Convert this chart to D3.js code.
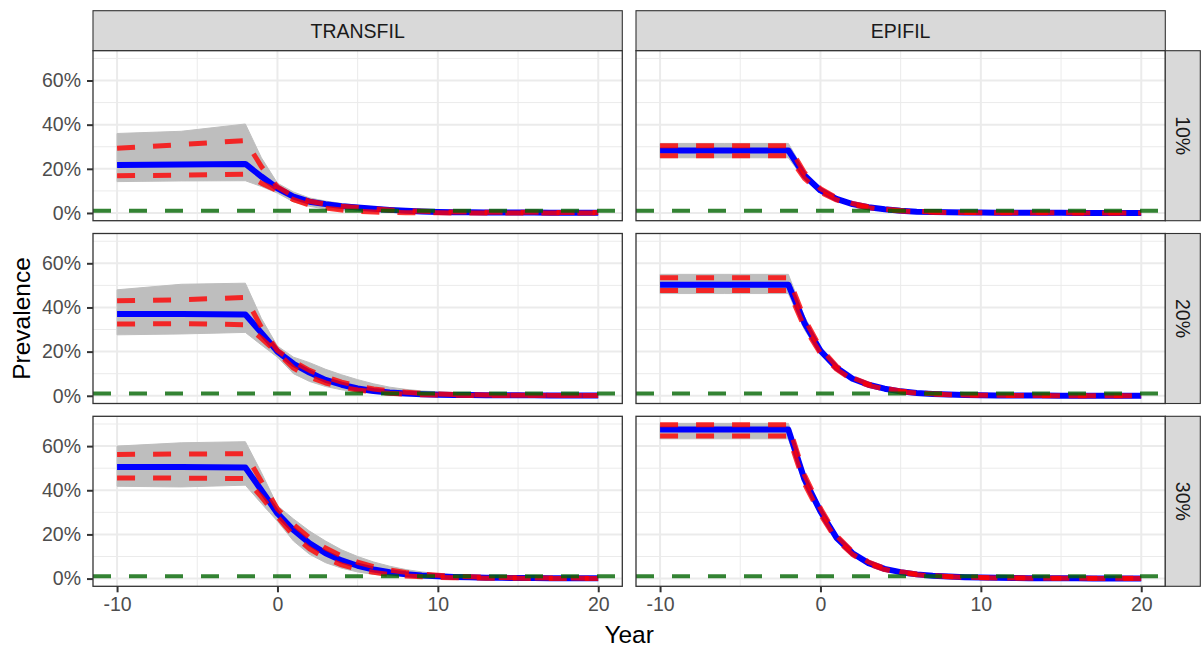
<!DOCTYPE html>
<html>
<head>
<meta charset="utf-8">
<script src="https://cdn.jsdelivr.net/npm/d3@7"></script>
<style>
  html, body { margin: 0; padding: 0; background: #fff; }
  svg text { font-family: "Liberation Sans", Arial, sans-serif; }
</style>
</head>
<body>
<svg id="chart" width="1202" height="647"></svg>
<script>
// ---------------- data ----------------
const years = [-10,-6,-2,-1,0,1,2,3,4,5,6,7,8,9,10,11,12,13,14,15,16,17,18,19,20];
const models = ["TRANSFIL", "EPIFIL"];
const coverages = ["10%", "20%", "30%"];
const yTicks = [0, 20, 40, 60];
const yMinor = [10, 30, 50, 70];
const xTicks = [-10, 0, 10, 20];
const xMinor = [-5, 5, 15];
const threshold = 1; // % prevalence

// TRANSFIL 10%
const tr10Mean = [21.7,22.0,22.2,16.5,11.2,7.4,5.1,4.0,3.1,2.5,1.9,1.4,1.0,0.7,0.45,0.35,0.3,0.25,0.2,0.18,0.16,0.15,0.14,0.13,0.12];
const tr10Hi   = [29.3,31.0,32.8,21.0,11.8,7.6,5.3,4.0,3.1,2.5,1.9,1.4,1.0,0.75,0.55,0.45,0.4,0.35,0.32,0.3,0.28,0.27,0.26,0.25,0.25];
const tr10Lo   = [16.9,17.1,17.5,13.5,10.0,6.0,3.6,2.2,1.3,0.7,0.4,0.25,0.15,0.1,0.05,0.03,0.02,0.02,0.02,0.02,0.02,0.02,0.02,0.02,0.02];
const tr10GHi  = [36.0,37.0,40.3,25.0,13.5,9.5,6.8,5.4,4.3,3.5,2.8,2.3,1.9,1.6,1.3,1.1,1.0,0.9,0.8,0.7,0.6,0.55,0.5,0.45,0.4];
const tr10GLo  = [14.2,14.5,14.6,12.0,9.0,5.0,3.0,1.8,1.0,0.6,0.35,0.2,0.1,0.05,0,0,0,0,0,0,0,0,0,0,0];
// TRANSFIL 20%
const tr20Mean = [37.0,37.0,36.8,28.5,20.0,14.5,10.5,7.2,5.0,3.3,2.2,1.5,1.0,0.7,0.5,0.4,0.32,0.27,0.23,0.2,0.18,0.16,0.15,0.14,0.13];
const tr20Hi   = [43.0,43.5,44.5,31.0,20.5,15.5,11.5,8.5,6.2,4.4,3.1,2.2,1.6,1.1,0.8,0.6,0.45,0.35,0.3,0.25,0.2,0.18,0.16,0.15,0.14];
const tr20Lo   = [32.5,32.7,32.2,26.0,19.5,12.5,8.5,5.8,3.9,2.6,1.7,1.1,0.7,0.45,0.3,0.2,0.15,0.1,0.08,0.08,0.08,0.08,0.08,0.08,0.08];
const tr20GHi  = [48.0,50.5,51.0,35.0,22.5,17.5,15.0,12.0,9.5,7.3,5.4,3.9,2.9,2.2,1.8,1.5,1.2,1.0,0.8,0.7,0.6,0.5,0.45,0.4,0.35];
const tr20GLo  = [27.6,28.0,28.7,23.0,17.5,10.0,6.5,4.2,2.7,1.7,1.0,0.6,0.35,0.2,0.1,0.03,0.03,0.03,0.03,0.03,0.03,0.03,0.03,0.03,0.03];
// TRANSFIL 30%
const tr30Mean = [50.5,50.5,50.3,40.0,29.5,22.0,16.0,11.5,8.2,5.8,4.1,2.9,2.0,1.4,1.0,0.75,0.55,0.42,0.33,0.27,0.22,0.19,0.17,0.15,0.14];
const tr30Hi   = [56.2,56.4,56.6,44.0,31.5,24.5,18.5,13.8,10.2,7.4,5.4,3.9,2.8,2.0,1.5,1.1,0.8,0.6,0.45,0.35,0.3,0.25,0.22,0.2,0.18];
const tr30Lo   = [45.6,45.5,45.3,37.0,28.0,19.5,13.5,9.2,6.2,4.2,2.8,1.8,1.2,0.8,0.5,0.35,0.25,0.18,0.13,0.1,0.08,0.08,0.08,0.08,0.08];
const tr30GHi  = [60.0,61.5,62.0,48.0,33.0,27.0,21.5,17.0,13.0,10.0,7.5,5.6,4.1,3.0,2.2,1.7,1.3,1.0,0.8,0.65,0.55,0.48,0.42,0.38,0.35];
const tr30GLo  = [41.8,41.5,42.3,34.0,26.0,17.0,11.0,7.2,4.7,3.0,1.9,1.2,0.75,0.45,0.28,0.17,0.1,0.05,0.05,0.05,0.05,0.05,0.05,0.05,0.05];
// EPIFIL 10%
const ep10Mean = [28.3,28.3,28.3,17.0,10.2,6.4,4.0,2.6,1.7,1.0,0.6,0.4,0.28,0.22,0.17,0.13,0.1,0.08,0.06,0.05,0.04,0.04,0.04,0.04,0.04];
const ep10Hi   = [30.5,30.5,30.5,18.3,11.0,6.9,4.3,2.8,1.8,1.1,0.7,0.45,0.3,0.22,0.17,0.13,0.1,0.08,0.06,0.05,0.04,0.04,0.04,0.04,0.04];
const ep10Lo   = [25.9,25.9,25.9,15.7,9.4,5.9,3.7,2.4,1.55,0.9,0.55,0.35,0.25,0.18,0.13,0.1,0.08,0.06,0.05,0.04,0.03,0.03,0.03,0.03,0.03];
const ep10GHi  = [31.5,31.5,31.5,19.0,11.5,7.3,4.6,3.0,2.0,1.3,0.85,0.55,0.38,0.27,0.2,0.15,0.12,0.1,0.08,0.06,0.05,0.05,0.05,0.05,0.05];
const ep10GLo  = [25.0,25.0,25.0,15.2,9.0,5.6,3.5,2.2,1.45,0.85,0.5,0.32,0.22,0.15,0.1,0.08,0.06,0.05,0.04,0.03,0.03,0.03,0.03,0.03,0.03];
// EPIFIL 20%
const ep20Mean = [50.3,50.3,50.3,33.0,20.4,12.7,7.7,5.0,3.2,2.0,1.3,0.85,0.55,0.37,0.25,0.17,0.12,0.09,0.07,0.05,0.05,0.05,0.05,0.05,0.05];
const ep20Hi   = [53.5,53.5,53.5,35.0,21.6,13.4,8.2,5.3,3.4,2.15,1.4,0.9,0.6,0.4,0.27,0.19,0.13,0.1,0.08,0.06,0.06,0.06,0.06,0.06,0.06];
const ep20Lo   = [47.7,47.7,47.7,31.0,19.2,12.0,7.2,4.7,3.0,1.85,1.2,0.8,0.5,0.34,0.23,0.16,0.11,0.08,0.06,0.05,0.05,0.05,0.05,0.05,0.05];
const ep20GHi  = [55.0,55.0,55.0,36.0,22.3,13.9,8.6,5.6,3.6,2.3,1.5,0.97,0.65,0.43,0.3,0.21,0.15,0.11,0.09,0.07,0.07,0.07,0.07,0.07,0.07];
const ep20GLo  = [46.3,46.3,46.3,30.0,18.6,11.5,6.9,4.5,2.85,1.75,1.12,0.75,0.47,0.32,0.21,0.14,0.1,0.07,0.05,0.04,0.04,0.04,0.04,0.04,0.04];
// EPIFIL 30%
const ep30Mean = [67.5,67.5,67.5,45.0,30.4,18.5,11.5,7.0,4.4,2.9,1.9,1.3,0.9,0.6,0.45,0.33,0.25,0.19,0.15,0.12,0.1,0.08,0.08,0.08,0.08];
const ep30Hi   = [69.7,69.7,69.7,47.0,31.8,19.5,12.2,7.5,4.7,3.1,2.05,1.4,0.97,0.65,0.48,0.35,0.27,0.2,0.16,0.13,0.11,0.09,0.09,0.09,0.09];
const ep30Lo   = [64.6,64.6,64.6,43.0,29.0,17.6,10.9,6.6,4.1,2.7,1.75,1.2,0.82,0.55,0.4,0.3,0.22,0.17,0.13,0.1,0.08,0.07,0.07,0.07,0.07];
const ep30GHi  = [70.3,70.3,70.3,48.0,32.5,20.0,12.6,7.8,4.9,3.25,2.15,1.47,1.02,0.68,0.5,0.37,0.28,0.21,0.17,0.14,0.12,0.1,0.1,0.1,0.1];
const ep30GLo  = [63.3,63.3,63.3,42.0,28.4,17.1,10.5,6.3,3.9,2.55,1.65,1.12,0.77,0.52,0.38,0.28,0.21,0.16,0.12,0.09,0.07,0.06,0.06,0.06,0.06];

const panelData = {
  "TRANSFIL|10%": {mean: tr10Mean, hi: tr10Hi, lo: tr10Lo, gHi: tr10GHi, gLo: tr10GLo},
  "TRANSFIL|20%": {mean: tr20Mean, hi: tr20Hi, lo: tr20Lo, gHi: tr20GHi, gLo: tr20GLo},
  "TRANSFIL|30%": {mean: tr30Mean, hi: tr30Hi, lo: tr30Lo, gHi: tr30GHi, gLo: tr30GLo},
  "EPIFIL|10%":   {mean: ep10Mean, hi: ep10Hi, lo: ep10Lo, gHi: ep10GHi, gLo: ep10GLo},
  "EPIFIL|20%":   {mean: ep20Mean, hi: ep20Hi, lo: ep20Lo, gHi: ep20GHi, gLo: ep20GLo},
  "EPIFIL|30%":   {mean: ep30Mean, hi: ep30Hi, lo: ep30Lo, gHi: ep30GHi, gLo: ep30GLo}
};

// ---------------- layout ----------------
const svg = d3.select("#chart");
const colX = [93, 636];
const panelW = 529.3;
const rowY = [50.7, 233.5, 416.3];
const panelH = 170;
const stripTop = 10.7, stripH = 40;
const rStripW = 35;
const fontTick = 19.5, fontTitle = 24.5;

const x = d3.scaleLinear().domain([-11.5, 21.5]).range([0, panelW]);
const y = d3.scaleLinear().domain([-3.5, 73.5]).range([panelH, 0]);

const defs = svg.append("defs");
defs.append("clipPath").attr("id", "pclip")
  .append("rect").attr("x", 0).attr("y", 0).attr("width", panelW).attr("height", panelH);

const lineGen = arr => d3.line().x((d, i) => x(years[i])).y(d => y(d))(arr);
const areaGen = (hi, lo) => d3.area().x((d, i) => x(years[i])).y0((d, i) => y(lo[i])).y1(d => y(d))(hi);

models.forEach((m, ci) => {
  const sx = colX[ci];
  svg.append("rect").attr("x", sx).attr("y", stripTop).attr("width", panelW).attr("height", stripH)
    .attr("fill", "#D9D9D9").attr("stroke", "#333333").attr("stroke-width", 1.1);
  svg.append("text").attr("x", sx + panelW / 2).attr("y", stripTop + stripH / 2)
    .attr("text-anchor", "middle").attr("dominant-baseline", "central")
    .attr("font-size", fontTick).attr("fill", "#1A1A1A").text(m);

  coverages.forEach((c, ri) => {
    const d = panelData[m + "|" + c];
    const g = svg.append("g").attr("transform", `translate(${sx},${rowY[ri]})`);
    g.append("rect").attr("width", panelW).attr("height", panelH).attr("fill", "#fff");
    const inner = g.append("g").attr("clip-path", "url(#pclip)");
    inner.selectAll(".ymin").data(yMinor).join("line")
      .attr("x1", 0).attr("x2", panelW).attr("y1", v => y(v)).attr("y2", v => y(v))
      .attr("stroke", "#EBEBEB").attr("stroke-width", 1);
    inner.selectAll(".xmin").data(xMinor).join("line")
      .attr("y1", 0).attr("y2", panelH).attr("x1", v => x(v)).attr("x2", v => x(v))
      .attr("stroke", "#EBEBEB").attr("stroke-width", 1);
    inner.selectAll(".ymaj").data(yTicks).join("line")
      .attr("x1", 0).attr("x2", panelW).attr("y1", v => y(v)).attr("y2", v => y(v))
      .attr("stroke", "#EBEBEB").attr("stroke-width", 2);
    inner.selectAll(".xmaj").data(xTicks).join("line")
      .attr("y1", 0).attr("y2", panelH).attr("x1", v => x(v)).attr("x2", v => x(v))
      .attr("stroke", "#EBEBEB").attr("stroke-width", 2);
    inner.append("path").attr("d", areaGen(d.gHi, d.gLo)).attr("fill", "#BEBEBE")
      .attr("stroke", "#BEBEBE").attr("stroke-width", 1).attr("stroke-linejoin", "round");
    inner.append("path").attr("d", lineGen(d.mean)).attr("fill", "none")
      .attr("stroke", "#0000FF").attr("stroke-width", 6).attr("stroke-linejoin", "round");
    [d.hi, d.lo].forEach(arr => {
      inner.append("path").attr("d", lineGen(arr)).attr("fill", "none")
        .attr("stroke", "rgba(255,0,0,0.8)").attr("stroke-width", 5)
        .attr("stroke-dasharray", "18,18").attr("stroke-linejoin", "round");
    });
    inner.append("line").attr("x1", 0).attr("x2", panelW).attr("y1", y(threshold)).attr("y2", y(threshold))
      .attr("stroke", "rgba(0,100,0,0.8)").attr("stroke-width", 4).attr("stroke-dasharray", "18,18");
    g.append("rect").attr("width", panelW).attr("height", panelH).attr("fill", "none")
      .attr("stroke", "#333333").attr("stroke-width", 1.3);

    if (ci === 0) {
      const ax = g.append("g").call(d3.axisLeft(y).tickValues(yTicks).tickSize(6).tickPadding(6).tickFormat(v => v + "%"));
      ax.select(".domain").remove();
      ax.selectAll("line").attr("stroke", "#333333").attr("stroke-width", 2);
      ax.selectAll("text").attr("font-size", fontTick).attr("fill", "#4D4D4D")
        .attr("font-family", "Liberation Sans, Arial, sans-serif");
    }
    if (ri === coverages.length - 1) {
      const ax = g.append("g").attr("transform", `translate(0,${panelH})`)
        .call(d3.axisBottom(x).tickValues(xTicks).tickSize(6).tickPadding(4.5).tickFormat(v => String(v)));
      ax.select(".domain").remove();
      ax.selectAll("line").attr("stroke", "#333333").attr("stroke-width", 2);
      ax.selectAll("text").attr("font-size", fontTick).attr("fill", "#4D4D4D")
        .attr("font-family", "Liberation Sans, Arial, sans-serif");
    }
    if (ci === models.length - 1) {
      const rx = sx + panelW;
      svg.append("rect").attr("x", rx).attr("y", rowY[ri]).attr("width", rStripW).attr("height", panelH)
        .attr("fill", "#D9D9D9").attr("stroke", "#333333").attr("stroke-width", 1.1);
      svg.append("text")
        .attr("transform", `translate(${rx + rStripW / 2},${rowY[ri] + panelH / 2}) rotate(90)`)
        .attr("text-anchor", "middle").attr("dominant-baseline", "central")
        .attr("font-size", fontTick).attr("fill", "#1A1A1A").text(c);
    }
  });
});

svg.append("text").attr("x", (colX[0] + colX[1] + panelW) / 2).attr("y", 643)
  .attr("text-anchor", "middle").attr("font-size", fontTitle).attr("fill", "#000").text("Year");
svg.append("text").attr("transform", `translate(30,${rowY[0] + (rowY[2] + panelH - rowY[0]) / 2}) rotate(-90)`)
  .attr("text-anchor", "middle").attr("font-size", fontTitle).attr("fill", "#000").text("Prevalence");
</script>
</body>
</html>
